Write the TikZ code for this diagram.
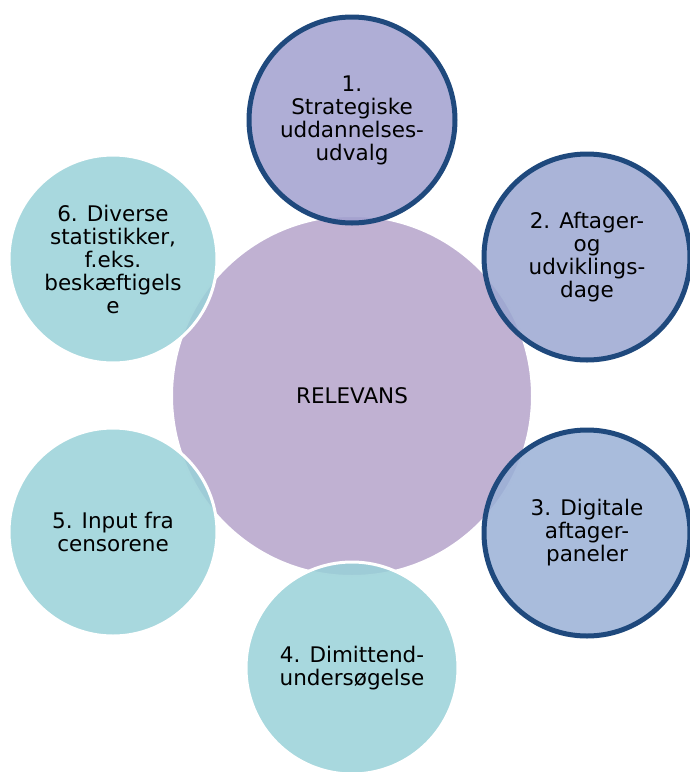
\documentclass[tikz,border=0pt]{standalone}
\usepackage{fontspec}
\setmainfont{DejaVu Sans}
\usetikzlibrary{positioning}

\definecolor{hubfill}{RGB}{181,163,202}
\definecolor{tealfill}{RGB}{153,209,216}
\definecolor{bluefillA}{RGB}{161,160,207}
\definecolor{bluefillB}{RGB}{155,167,209}
\definecolor{bluefillC}{RGB}{154,176,214}
\definecolor{rimblue}{RGB}{31,73,125}

\begin{document}
\begin{tikzpicture}[x=1pt, y=-1pt,
  every node/.style={circle, inner sep=0pt, align=center,
    font=\fontsize{21.5}{23}\selectfont, text=black, fill opacity=0.85, text opacity=1},
  hub/.style={fill=hubfill, draw=white, line width=2pt, minimum size=360pt},
  bluering/.style={draw=rimblue, line width=5pt, minimum size=206pt},
  tealring/.style={fill=tealfill, draw=white, line width=3pt, minimum size=208pt}]

  \useasboundingbox (0,0) rectangle (689,772);

  \node [hub] (rel) at (352,396) {RELEVANS};

  \node [bluering, fill=bluefillA] (s1) at (352,120) {1.\\Strategiske\\uddannelses-\\udvalg};

  \node [bluering, fill=bluefillB] (s2) at (587,257) {2. Aftager-\\og\\udviklings-\\dage};

  \node [bluering, fill=bluefillC] (s3) at (587,533) {3. Digitale\\aftager-\\paneler};

  \node [tealring, minimum size=212pt] (s4) at (352,668) {4. Dimittend-\\undersøgelse};

  \node [tealring] (s5) at (113,532) {5. Input fra\\censorene};

  \node [tealring] (s6) at (113,259) {6. Diverse\\statistikker,\\f.eks.\\beskæftigels\\e};

\end{tikzpicture}
\end{document}
